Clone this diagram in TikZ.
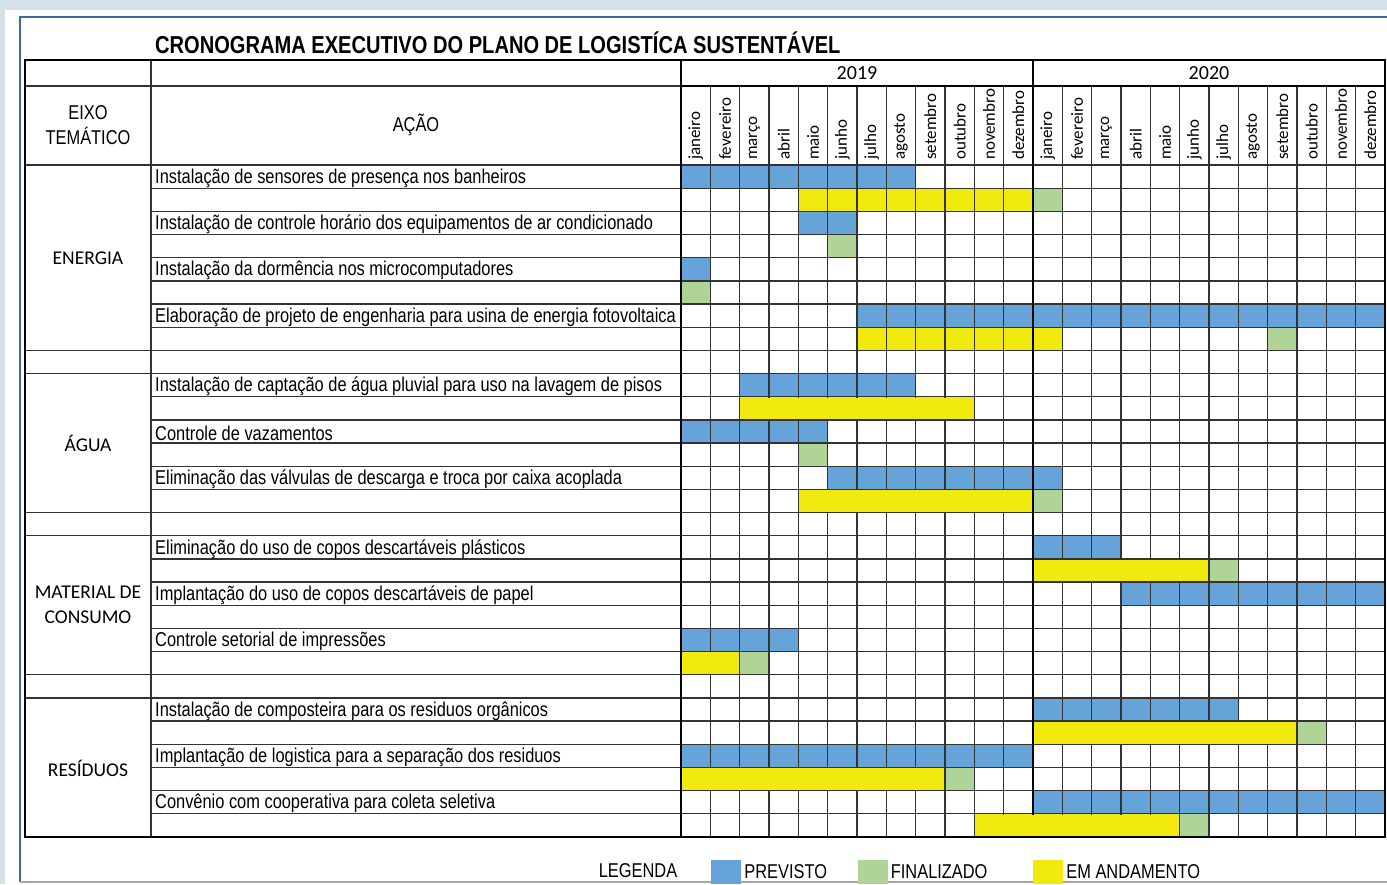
\documentclass[tikz,border=0pt]{standalone}
\usepackage{fontspec}
\setmainfont{Liberation Sans}[FakeStretch=0.82]
\newfontfamily\calibri{Carlito}
\usetikzlibrary{positioning}
\definecolor{fundo}{RGB}{211,225,234}
\definecolor{moldura}{RGB}{62,104,163}
\definecolor{previsto}{RGB}{102,163,216}
\definecolor{finalizado}{RGB}{176,212,152}
\definecolor{andamento}{RGB}{242,234,14}
\tikzset{
  grade/.style={draw=black!80, line width=1.3pt},
  borda/.style={draw=black, line width=2.6pt},
  acao/.style={anchor=west, inner sep=0pt, font=\fontsize{20}{22}\selectfont},
  eixo/.style={align=center, font=\calibri\fontsize{19.5}{25}\selectfont},
  mes/.style={rotate=90, anchor=west, inner sep=1pt, font=\calibri\fontsize{17}{18}\selectfont},
  caixa/.style={minimum width=30pt, minimum height=24pt, inner sep=0pt},
  legtexto/.style={font=\fontsize{20}{22}\selectfont, inner sep=0pt},
}
\begin{document}
\begin{tikzpicture}[x=1pt,y=-1pt]
\useasboundingbox (0,0) rectangle (1387,884);
\fill[fundo] (0,0) rectangle (1387,884);
\fill[white] (5,10) rectangle (1387,884);
\draw[moldura, line width=1.5pt] (1387,17) -- (20,17) -- (20,882);
\draw[black!35, line width=1.2pt] (20,882) -- (1387,882);

\node[anchor=west, inner sep=0pt, font=\bfseries\fontsize{24.5}{26}\selectfont] (titulo) at (155,43) {CRONOGRAMA EXECUTIVO DO PLANO DE LOGISTÍCA SUSTENTÁVEL};

% celulas do cronograma (linha/inicio/fim/cor)
\foreach \r/\a/\b/\cor in {0/0/7/previsto, 1/4/11/andamento, 1/12/12/finalizado,
    2/4/5/previsto, 3/5/5/finalizado, 4/0/0/previsto, 5/0/0/finalizado,
    6/6/23/previsto, 7/6/12/andamento, 7/20/20/finalizado,
    9/2/7/previsto, 10/2/9/andamento, 11/0/4/previsto, 12/4/4/finalizado,
    13/5/12/previsto, 14/4/11/andamento, 14/12/12/finalizado,
    16/12/14/previsto, 17/12/17/andamento, 17/18/18/finalizado, 18/15/23/previsto,
    20/0/3/previsto, 21/0/1/andamento, 21/2/2/finalizado,
    23/12/18/previsto, 24/12/20/andamento, 24/21/21/finalizado,
    25/0/11/previsto, 26/0/8/andamento, 26/9/9/finalizado,
    27/12/23/previsto, 28/10/16/andamento, 28/17/17/finalizado}
  \fill[\cor] ({681+\a*29.333},{165+\r*23.172}) rectangle ({681+(\b+1)*29.333},{165+(\r+1)*23.172});

% grade
\foreach \r in {0,...,29}
  \draw[grade] (151,{165+\r*23.172}) -- (1385,{165+\r*23.172});
\foreach \r in {8,9,15,16,22,23}
  \draw[grade] (25,{165+\r*23.172}) -- (151,{165+\r*23.172});
\foreach \c in {1,...,23}
  \draw[grade] ({681+\c*29.333},86) -- ({681+\c*29.333},837);
\draw[grade] (25,86) -- (681,86);
\draw[grade] (25,165) -- (151,165);
\draw[grade] (151,60) -- (151,837);
\draw[draw=black, line width=2pt] (25,60) rectangle (681,837);
\draw[borda] (681,60) rectangle (1385,837);
\draw[borda] (1033,60) -- (1033,837);
\draw[borda] (681,86) -- (1385,86);

% faixas mescladas
\foreach \r/\a/\b in {10/2/9, 14/4/11, 17/12/17, 21/0/1, 24/12/20, 26/0/8, 28/10/16}
  \fill[andamento] ({681+\a*29.333+1.4},{165+\r*23.172+0.8}) rectangle ({681+(\b+1)*29.333-1.4},{165+(\r+1)*23.172-0.8});

% cabecalho
\node[align=center, font=\fontsize{20}{25}\selectfont] (eixotem) at (88,125) {EIXO\\TEMÁTICO};
\node[font=\fontsize{20}{22}\selectfont] (acaotit) at (416,125) {AÇÃO};
\node[font=\calibri\fontsize{20}{22}\selectfont] (ano2019) at (857,73) {2019};
\node[font=\calibri\fontsize{20}{22}\selectfont] (ano2020) at (1209,73) {2020};
\foreach \m [count=\i from 0] in {janeiro,fevereiro,março,abril,maio,junho,julho,agosto,setembro,outubro,novembro,dezembro}{
  \node[mes] (ma\i) at ({681+(\i+0.5)*29.333},161) {\m};
  \node[mes] (mb\i) at ({681+(\i+12.5)*29.333},161) {\m};
}

% eixos tematicos
\node[eixo] (energia) at (88,258) {ENERGIA};
\node[eixo] (agua) at (88,443) {ÁGUA};
\node[eixo] (material) at (88,605) {MATERIAL DE\\CONSUMO};
\node[eixo] (residuos) at (88,768) {RESÍDUOS};

% acoes
\foreach \r/\txt in {0/Instalação de sensores de presença nos banheiros,
    2/Instalação de controle horário dos equipamentos de ar condicionado,
    4/Instalação da dormência nos microcomputadores,
    6/Elaboração de projeto de engenharia para usina de energia fotovoltaica,
    9/Instalação de captação de água pluvial para uso na lavagem de pisos,
    11/Controle de vazamentos,
    13/Eliminação das válvulas de descarga e troca por caixa acoplada,
    16/Eliminação do uso de copos descartáveis plásticos,
    18/Implantação do uso de copos descartáveis de papel,
    20/Controle setorial de impressões,
    23/Instalação de composteira para os residuos orgânicos,
    25/Implantação de logistica para a separação dos residuos,
    27/Convênio com cooperativa para coleta seletiva}
  \node[acao] (acao\r) at (155,{166.5+(\r+0.5)*23.172}) {\txt};

% legenda
\node[legtexto] (legenda) at (638,871) {LEGENDA};
\node[caixa, fill=previsto] (cxprev) at (726,872) {};
\node[legtexto, right=3pt of cxprev] (txprev) {PREVISTO};
\node[caixa, fill=finalizado] (cxfin) at (872.5,872) {};
\node[legtexto, right=3pt of cxfin] (txfin) {FINALIZADO};
\node[caixa, fill=andamento] (cxand) at (1048,872) {};
\node[legtexto, right=3pt of cxand] (txand) {EM ANDAMENTO};
\end{tikzpicture}
\end{document}
